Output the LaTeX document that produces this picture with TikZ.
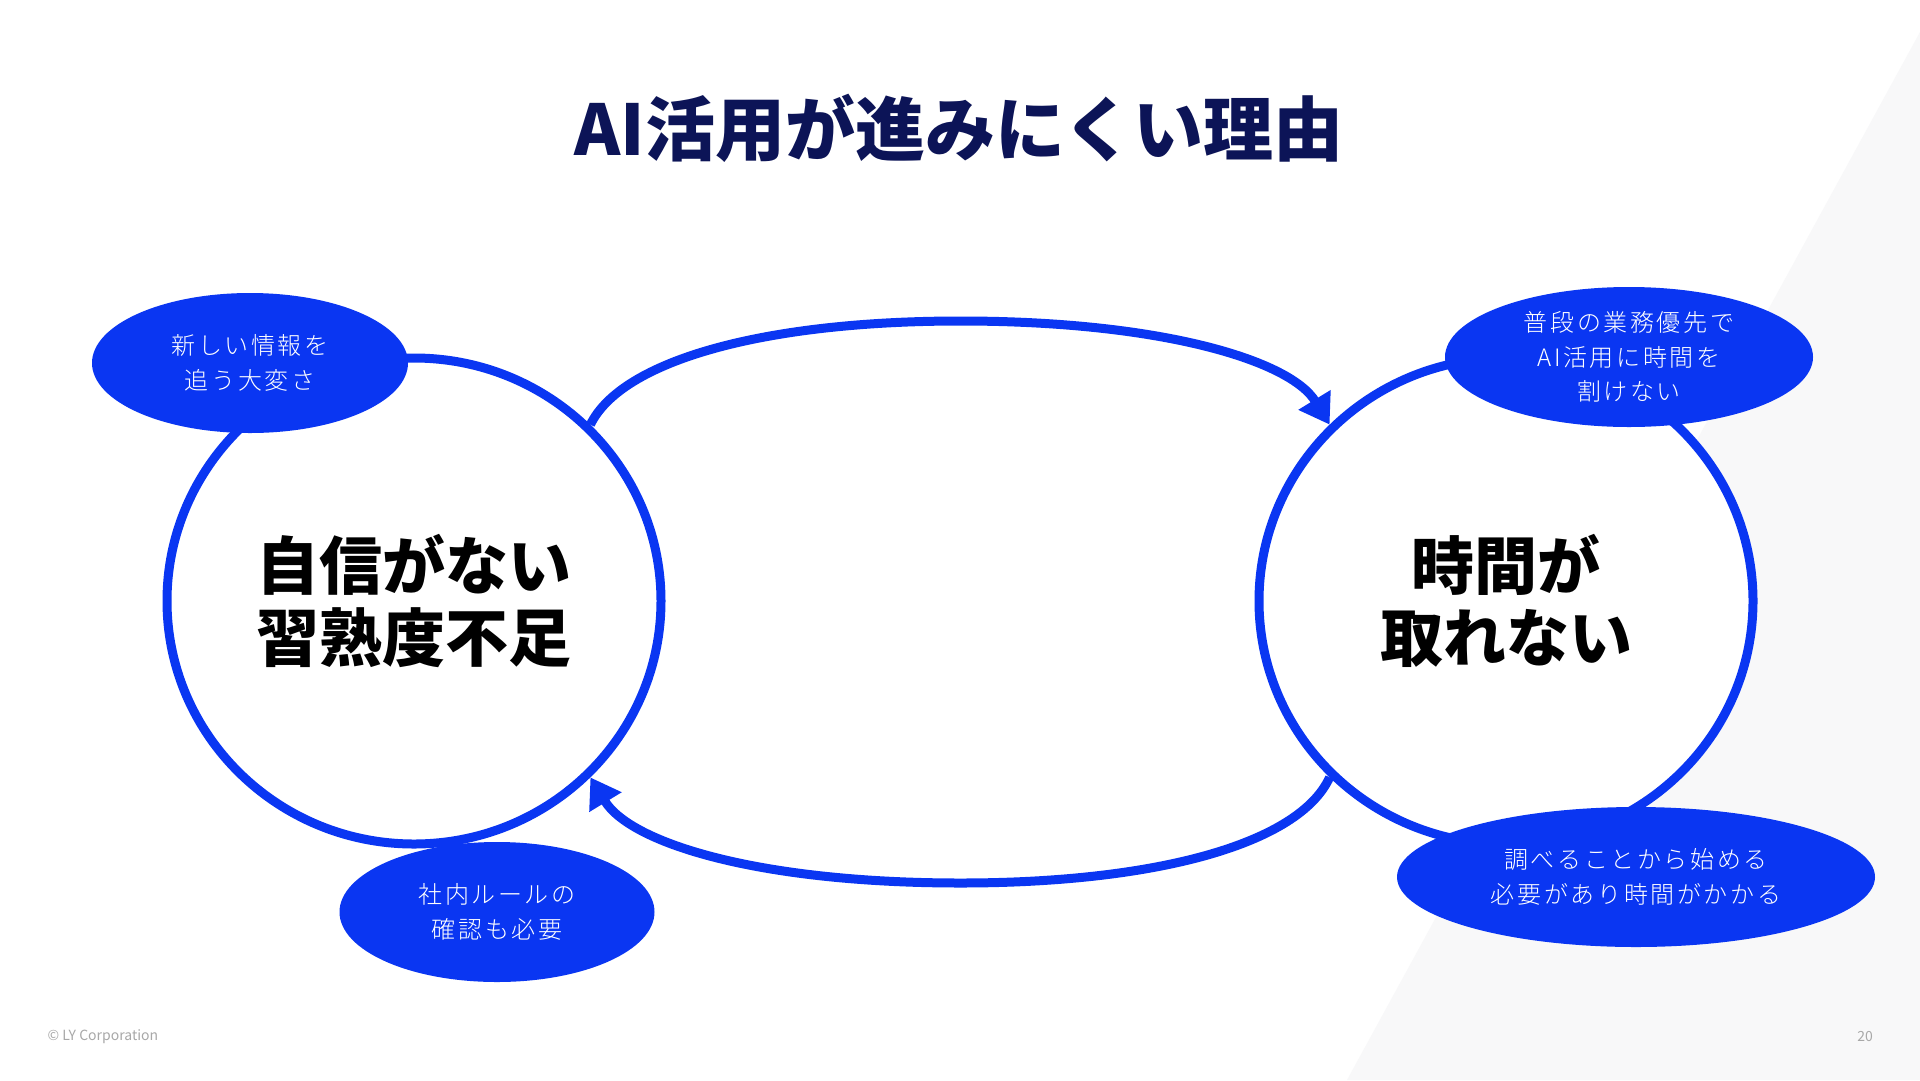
\documentclass[tikz,border=0pt]{standalone}
\usepackage{fontspec}
\setmainfont{Noto Sans CJK JP}
\newfontfamily\lightfont{Noto Sans CJK JP Light}[LetterSpace=11]
\usetikzlibrary{arrows.meta,shapes.geometric}
\definecolor{lyblue}{HTML}{0A36F2}
\definecolor{navy}{HTML}{0C1457}
\definecolor{bggrey}{HTML}{F8F8F9}
\definecolor{footgrey}{HTML}{A8A8A8}
\tikzset{
  bigcirc/.style={ellipse, draw=lyblue, line width=9pt, fill=white,
    minimum width=494pt, minimum height=486pt, inner sep=0pt, align=center,
    font=\fontsize{63}{72}\selectfont\bfseries, text=black},
  bubble/.style={ellipse, fill=lyblue, minimum height=140pt, inner sep=0pt,
    align=center, text=white, font=\lightfont\fontsize{24}{34.5}\selectfont},
  arrowline/.style={draw=lyblue, line width=9pt,
    -{Triangle[length=29pt,width=36pt]}},
  footer/.style={font=\fontsize{14}{16}\selectfont, text=footgrey}
}
\begin{document}
\begin{tikzpicture}[x=1pt,y=-1pt]
\useasboundingbox (0,0) rectangle (1920,1080);
\fill[white] (0,0) rectangle (1920,1080);
\fill[bggrey] (1920,32) -- (1347,1080) -- (1920,1080) -- cycle;

\node[font=\fontsize{70}{80}\selectfont\bfseries, text=navy] (title) at (959,128) {AI活用が進みにくい理由};

\node[bigcirc] (L) at (414,601) {自信がない\\習熟度不足};
\node[bigcirc] (R) at (1506,601) {時間が\\取れない};

\coordinate (topmid) at (960.5,321);
\coordinate (botmid) at (960.5,883);
\draw[arrowline] (L.45) .. controls (622,360) and (765,321) .. (topmid)
  .. controls (1160,321) and (1290,360) .. (R.135);
\draw[arrowline] (R.225) .. controls (1299,844) and (1156,883) .. (botmid)
  .. controls (761,883) and (631,844) .. (L.315);

\node[bubble, minimum width=316pt] (b1) at (250,363) {新しい情報を\\追う大変さ};
\node[bubble, minimum width=368pt] (b2) at (1629,357) {普段の業務優先で\\AI活用に時間を\\割けない};
\node[bubble, minimum width=478pt] (b3) at (1636,877) {調べることから始める\\必要があり時間がかかる};
\node[bubble, minimum width=315pt] (b4) at (497,912) {社内ルールの\\確認も必要};

\node[footer, anchor=west] (copy) at (44,1037) {© LY Corporation};
\node[footer] (page) at (1865,1036) {20};
\end{tikzpicture}
\end{document}
